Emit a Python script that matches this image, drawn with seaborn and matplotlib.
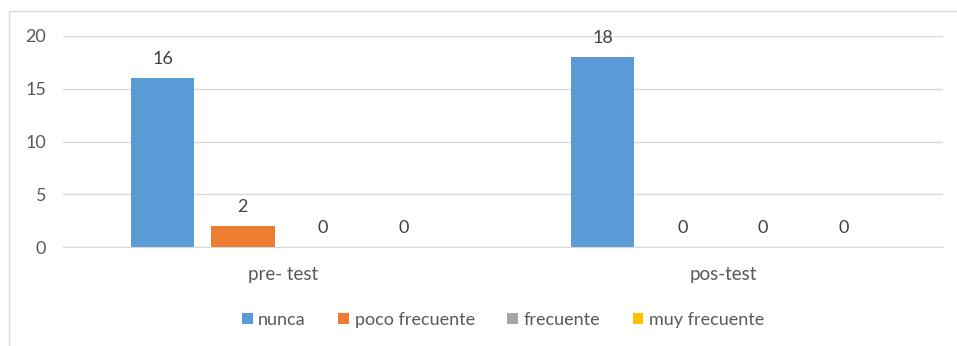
import matplotlib
matplotlib.use("Agg")
import matplotlib.pyplot as plt
import pandas as pd
import seaborn as sns
from matplotlib.patches import Rectangle

groups = ["pre- test", "pos-test"]
series = ["nunca", "poco frecuente", "frecuente", "muy frecuente"]
pre_vals = [16, 2, 0, 0]
pos_vals = [18, 0, 0, 0]
colors = ["#5B9BD5", "#ED7D31", "#A5A5A5", "#FFC000"]

rows = []
for s, a, b in zip(series, pre_vals, pos_vals):
    rows.append({"grupo": groups[0], "serie": s, "valor": a})
    rows.append({"grupo": groups[1], "serie": s, "valor": b})
df = pd.DataFrame(rows)

sns.set_style("white")
plt.rcParams["font.family"] = ["Lato", "DejaVu Sans"]
txt = "#595959"

fig = plt.figure(figsize=(9.57, 3.46), dpi=100)
ax = fig.add_axes([63 / 957, 1 - 247 / 346, 880 / 957, 211 / 346])

sns.barplot(data=df, x="grupo", y="valor", hue="serie", order=groups,
            hue_order=series, palette=colors, width=0.73, gap=0.21,
            saturation=1, ax=ax, errorbar=None, linewidth=0)

for c in ax.containers:
    ax.bar_label(c, fmt="%d", padding=8, fontsize=13, color="#404040")

ax.set_ylim(0, 20)
ax.set_yticks([0, 5, 10, 15, 20])
ax.set_xlim(-0.5, 1.5)
ax.yaxis.grid(True, color="#D9D9D9", linewidth=1)
ax.set_axisbelow(True)
for side in ["top", "right", "left"]:
    ax.spines[side].set_visible(False)
ax.spines["bottom"].set_color("#D9D9D9")
ax.tick_params(axis="y", length=0, labelsize=13, labelcolor=txt, pad=12)
ax.set_xticks([-0.5, 0.5, 1.5], minor=True)
ax.tick_params(axis="x", which="major", length=0, labelsize=13.5,
               labelcolor=txt, pad=14)
ax.tick_params(axis="x", which="minor", length=6, color="#D9D9D9")
ax.set_xlabel("")
ax.set_ylabel("")

ax.legend(loc="center", bbox_to_anchor=(0.5, -0.345), ncol=4,
          frameon=False, fontsize=13, labelcolor=txt, handlelength=0.6,
          handleheight=0.6, handletextpad=0.3, columnspacing=1.8)

fig.patches.append(Rectangle((9 / 957, -0.05), 1.0, 1 - 11 / 346 + 0.05,
                             transform=fig.transFigure, fill=False,
                             edgecolor="#D9D9D9", linewidth=1))

fig.savefig("out.png", dpi=100)
